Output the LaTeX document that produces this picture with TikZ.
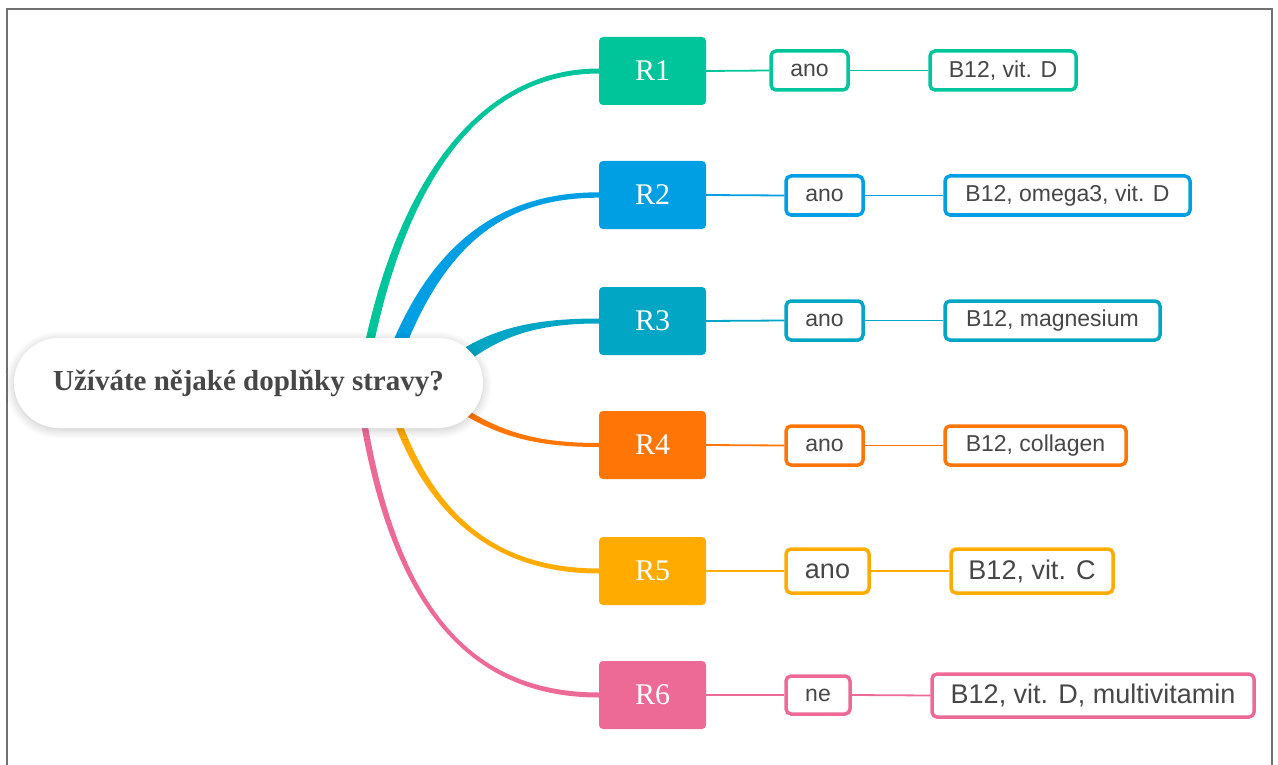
\documentclass[tikz,border=0pt]{standalone}
\usepackage{fontspec}
\setmainfont{Liberation Serif}
\setsansfont{Liberation Sans}
\usetikzlibrary{calc,shadows.blur,backgrounds}

\definecolor{cR1}{HTML}{00C49A}
\definecolor{cR2}{HTML}{009FE3}
\definecolor{cR3}{HTML}{00A6C4}
\definecolor{cR4}{HTML}{FF7506}
\definecolor{cR5}{HTML}{FFAB00}
\definecolor{cR6}{HTML}{EE6A96}
\definecolor{txt}{HTML}{474747}
\definecolor{framecol}{HTML}{707070}

% tapered branch: colour, start, control 1, control 2, end, half width at start, half width at end
\newcommand\taperlink[7]{%
  \fill[#1] ($(#2)!#6!90:(#3)$)
    .. controls ($(#3)!#6!-90:(#2)$) and ($(#4)!#7!90:(#5)$) .. ($(#5)!#7!-90:(#4)$)
    -- ($(#5)!#7!90:(#4)$)
    .. controls ($(#4)!#7!-90:(#5)$) and ($(#3)!#6!90:(#2)$) .. ($(#2)!#6!-90:(#3)$)
    -- cycle;}

\begin{document}
\begin{tikzpicture}[x=1pt,y=-1pt,
  rootbox/.style={fill=white, rounded corners=45pt, minimum width=469pt,
    minimum height=90pt, inner sep=0pt, text=txt,
    font=\bfseries\fontsize{29}{34}\selectfont,
    blur shadow={shadow xshift=0pt, shadow yshift=-2pt, shadow blur radius=9pt,
      shadow opacity=22, shadow blur steps=12}},
  rbox/.style={fill=#1, rounded corners=4pt, minimum width=107pt,
    minimum height=68pt, inner sep=0pt, text=white,
    font=\fontsize{30}{32}\selectfont},
  leaf/.style={draw=#1, line width=3.5pt, fill=white, rounded corners=5pt,
    inner sep=0pt, text=txt, font=\sffamily\fontsize{23}{26}\selectfont},
  bigleaf/.style={leaf=#1, font=\sffamily\fontsize{27}{30}\selectfont},
  twig/.style={draw=#1, line width=1.8pt}
]
\useasboundingbox (0,0) rectangle (1278,765);

% page frame
\draw[framecol, line width=2pt] (7,765) -- (7,9) -- (1272,9) -- (1272,765);

% central question
\node[rootbox] (root) at (248.5,383) {Užíváte nějaké doplňky stravy?};

% respondents
\node[rbox=cR1] (r1) at (652.5,71) {R1};
\node[rbox=cR2] (r2) at (652.5,195) {R2};
\node[rbox=cR3] (r3) at (652.5,321) {R3};
\node[rbox=cR4] (r4) at (652.5,445) {R4};
\node[rbox=cR5] (r5) at (652.5,571) {R5};
\node[rbox=cR6] (r6) at (652.5,695) {R6};

% answers
\node[leaf=cR1, minimum width=77pt, minimum height=39pt] (a1) at (809.5,70.5) {ano};
\node[leaf=cR2, minimum width=77pt, minimum height=39pt] (a2) at (824.5,195.5) {ano};
\node[leaf=cR3, minimum width=77pt, minimum height=39pt] (a3) at (824.5,320.5) {ano};
\node[leaf=cR4, minimum width=77pt, minimum height=39pt] (a4) at (824.5,445.5) {ano};
\node[bigleaf=cR5, minimum width=83pt, minimum height=44pt] (a5) at (827.5,571) {ano};
\node[leaf=cR6, minimum width=64pt, minimum height=38pt] (a6) at (818,695) {ne};

% supplements
\node[leaf=cR1, minimum width=146pt, minimum height=39pt] (v1) at (1003,70.5) {B12, vit. D};
\node[leaf=cR2, minimum width=245pt, minimum height=39pt] (v2) at (1067.5,195.5) {B12, omega3, vit. D};
\node[leaf=cR3, minimum width=215pt, minimum height=39pt] (v3) at (1052.5,320.5) {B12, magnesium};
\node[leaf=cR4, minimum width=181pt, minimum height=39pt] (v4) at (1035.5,445.5) {B12, collagen};
\node[bigleaf=cR5, minimum width=162pt, minimum height=44pt] (v5) at (1032,571) {B12, vit. C};
\node[bigleaf=cR6, minimum width=322pt, minimum height=43pt] (v6) at (1093,695.5) {B12, vit. D, multivitamin};

% branch origins, hidden under the central question
\coordinate (s1) at (362,383);
\coordinate (s2) at (385,383);
\coordinate (s3) at (430,383);
\coordinate (s4) at (440,395);
\coordinate (s5) at (385,383);
\coordinate (s6) at (358,383);

\begin{pgfonlayer}{background}
  \taperlink{cR1}{s1}{392,200}{470,71}{r1.west}{4.5pt}{2.5pt}
  \taperlink{cR2}{s2}{430,245}{500,195}{r2.west}{7pt}{2.7pt}
  \taperlink{cR3}{s3}{480,338}{520,321}{r3.west}{7.5pt}{2.5pt}
  \taperlink{cR4}{s4}{490,432}{530,445}{r4.west}{3pt}{2pt}
  \taperlink{cR5}{s5}{420,510}{490,571}{r5.west}{3.7pt}{2.5pt}
  \taperlink{cR6}{s6}{385,585}{455,695}{r6.west}{3.2pt}{2.5pt}

  \draw[twig=cR1] (r1.east) -- (a1.west);
  \draw[twig=cR1] (a1.east) -- (v1.west);
  \draw[twig=cR2] (r2.east) -- (a2.west);
  \draw[twig=cR2] (a2.east) -- (v2.west);
  \draw[twig=cR3] (r3.east) -- (a3.west);
  \draw[twig=cR3] (a3.east) -- (v3.west);
  \draw[twig=cR4] (r4.east) -- (a4.west);
  \draw[twig=cR4] (a4.east) -- (v4.west);
  \draw[twig=cR5] (r5.east) -- (a5.west);
  \draw[twig=cR5] (a5.east) -- (v5.west);
  \draw[twig=cR6] (r6.east) -- (a6.west);
  \draw[twig=cR6] (a6.east) -- (v6.west);
\end{pgfonlayer}
\end{tikzpicture}
\end{document}
